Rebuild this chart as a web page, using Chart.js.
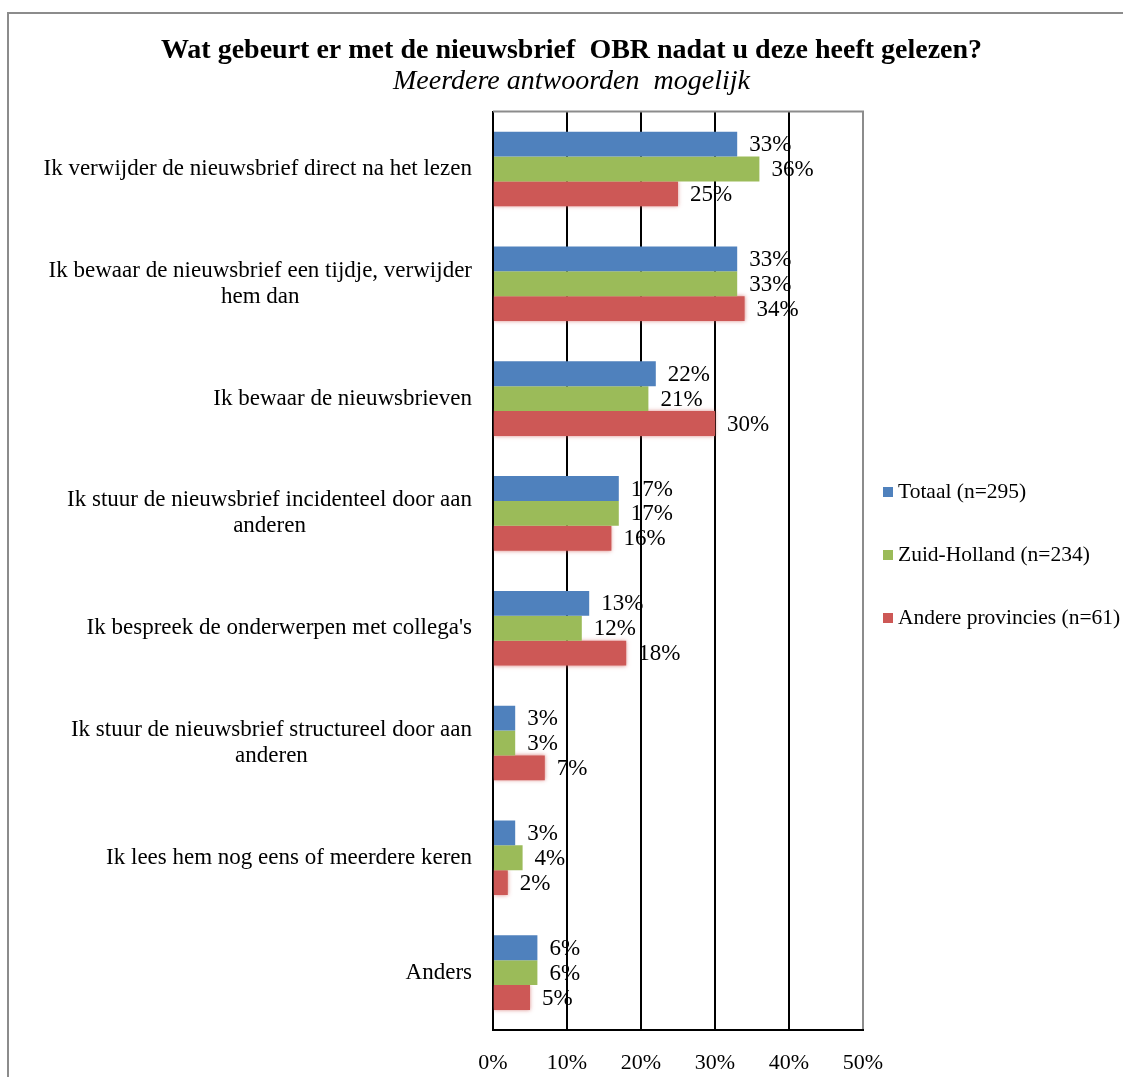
<!DOCTYPE html>
<html>
<head>
<meta charset="utf-8">
<script src="https://cdn.jsdelivr.net/npm/chart.js@4"></script>
<style>
    html, body { margin: 0; padding: 0; background: #fff; overflow: hidden; }
    #frame {
        position: absolute; left: 7px; top: 12px;
        width: 1200px; height: 1200px;
        border: 2px solid #8c8c8c; box-sizing: border-box;
    }
    #wrap { position: absolute; left: 0; top: 0; width: 1123px; height: 1077px; }
</style>
</head>
<body>
<div id="frame"></div>
<div id="wrap"><canvas id="myChart" width="1123" height="1077"></canvas></div>
<script>
// survey answers, one entry per category (top to bottom)
const categories = [
    "Ik verwijder de nieuwsbrief direct na het lezen",
    ["Ik bewaar de nieuwsbrief een tijdje, verwijder", "hem dan"],
    "Ik bewaar de nieuwsbrieven",
    ["Ik stuur de nieuwsbrief incidenteel door aan", "anderen"],
    "Ik bespreek de onderwerpen met collega's",
    ["Ik stuur de nieuwsbrief structureel door aan", "anderen"],
    "Ik lees hem nog eens of meerdere keren",
    "Anders"
];
const series_names = ["Totaal (n=295)", "Zuid-Holland (n=234)", "Andere provincies (n=61)"];
const totaal = [33, 33, 22, 17, 13, 3, 3, 6];
const zuid_holland = [36, 33, 21, 17, 12, 3, 4, 6];
const andere = [25, 34, 30, 16, 18, 7, 2, 5];
const x_ticks = [0, 10, 20, 30, 40, 50];

const colors = ["#4F81BD", "#9BBB59", "#CD5856"];
const serif = "'Liberation Serif', 'DejaVu Serif', serif";

// category labels: block right-aligned to the axis, lines centred inside the block
const yLabels = {
    id: "yLabels",
    afterDraw(chart) {
        const ctx = chart.ctx;
        const scale = chart.scales.y;
        const right = chart.chartArea.left - 21;
        ctx.save();
        ctx.font = "23px " + serif;
        ctx.fillStyle = "#000";
        ctx.textAlign = "center";
        ctx.textBaseline = "middle";
        categories.forEach((cat, i) => {
            const lines = Array.isArray(cat) ? cat : [cat];
            const w = Math.max(...lines.map((l) => ctx.measureText(l).width));
            const cx = right - w / 2;
            const lh = 26;
            const y0 = scale.getPixelForTick(i) - (lines.length - 1) * lh / 2;
            lines.forEach((l, j) => ctx.fillText(l, cx, y0 + j * lh));
        });
        ctx.restore();
    }
};

// value labels just past the end of each bar
const valueLabels = {
    id: "valueLabels",
    afterDatasetsDraw(chart) {
        const ctx = chart.ctx;
        ctx.save();
        ctx.font = "23px " + serif;
        ctx.fillStyle = "#000";
        ctx.textAlign = "left";
        ctx.textBaseline = "middle";
        chart.data.datasets.forEach((ds, d) => {
            chart.getDatasetMeta(d).data.forEach((bar, i) => {
                ctx.fillText(ds.data[i] + "%", bar.x + 12, bar.y + 1);
            });
        });
        ctx.restore();
    }
};

// soft edge on the red bars, gray top edge of the plot area
const extras = {
    id: "extras",
    beforeDatasetDraw(chart, args) {
        if (args.index === 2) {
            chart.ctx.save();
            chart.ctx.shadowColor = "rgba(205,88,86,0.7)";
            chart.ctx.shadowBlur = 4;
        }
    },
    afterDatasetDraw(chart, args) {
        if (args.index === 2) chart.ctx.restore();
    },
    afterDraw(chart) {
        const a = chart.chartArea;
        const ctx = chart.ctx;
        ctx.save();
        ctx.strokeStyle = "#8c8c8c";
        ctx.lineWidth = 2;
        ctx.beginPath();
        ctx.moveTo(a.left, a.top);
        ctx.lineTo(a.right + 1, a.top);
        ctx.stroke();
        ctx.restore();
    }
};

// legend to the right of the plot
const sideLegend = {
    id: "sideLegend",
    afterDraw(chart) {
        const ctx = chart.ctx;
        const x = chart.chartArea.right + 20;
        const yMid = 555;
        const gap = 63;
        ctx.save();
        ctx.font = "21.5px " + serif;
        ctx.textBaseline = "middle";
        ctx.textAlign = "left";
        chart.data.datasets.forEach((ds, i) => {
            const y = yMid + (i - 1) * gap;
            ctx.fillStyle = ds.backgroundColor;
            ctx.fillRect(x, y - 5, 10, 10);
            ctx.fillStyle = "#000";
            ctx.fillText(ds.label, x + 15, y);
        });
        ctx.restore();
    }
};

const ctx = document.getElementById("myChart").getContext("2d");
const my_chart = new Chart(ctx, {
    type: "bar",
    data: {
        labels: categories.map((c) => (Array.isArray(c) ? c.join(" ") : c)),
        datasets: [
            { label: series_names[0], data: totaal, backgroundColor: colors[0] },
            { label: series_names[1], data: zuid_holland, backgroundColor: colors[1] },
            { label: series_names[2], data: andere, backgroundColor: colors[2] },
        ],
    },
    options: {
        indexAxis: "y",
        responsive: false,
        animation: false,
        categoryPercentage: 0.65,
        barPercentage: 1.0,
        layout: { padding: { left: 20, right: 0, top: 0, bottom: 0 } },
        scales: {
            x: {
                min: x_ticks[0],
                max: x_ticks[x_ticks.length - 1],
                afterBuildTicks: (s) => { s.ticks = x_ticks.map((v) => ({ value: v })); },
                afterFit: (s) => { s.height = 47; },
                ticks: {
                    callback: (v) => v + "%",
                    padding: 20,
                    color: "#000",
                    font: { family: serif, size: 22 },
                },
                grid: {
                    color: (c) => (c.tick && c.tick.value === 50 ? "#8c8c8c" : "#000"),
                    lineWidth: 2,
                    drawTicks: false,
                },
                border: { color: "#000", width: 2 },
            },
            y: {
                afterFit: (s) => { s.width = 473; },
                ticks: { display: false },
                grid: { display: false, drawTicks: false },
                border: { color: "#000", width: 2 },
            },
            // empty right-hand axis that keeps room for the legend
            yRight: {
                type: "category",
                position: "right",
                afterFit: (s) => { s.width = 260; },
                ticks: { display: false },
                grid: { display: false, drawTicks: false },
                border: { display: false },
            },
        },
        plugins: {
            legend: { display: false },
            tooltip: { enabled: false },
            title: {
                display: true,
                text: "Wat gebeurt er met de nieuwsbrief  OBR nadat u deze heeft gelezen?",
                color: "#000",
                font: { family: serif, size: 28, weight: "bold", lineHeight: 1.1 },
                padding: { top: 35, bottom: 0 },
            },
            subtitle: {
                display: true,
                text: "Meerdere antwoorden  mogelijk",
                color: "#000",
                font: { family: serif, size: 28, style: "italic", lineHeight: 1.1 },
                padding: { top: 0, bottom: 15 },
            },
        },
    },
    plugins: [yLabels, valueLabels, extras, sideLegend],
});
</script>
</body>
</html>
